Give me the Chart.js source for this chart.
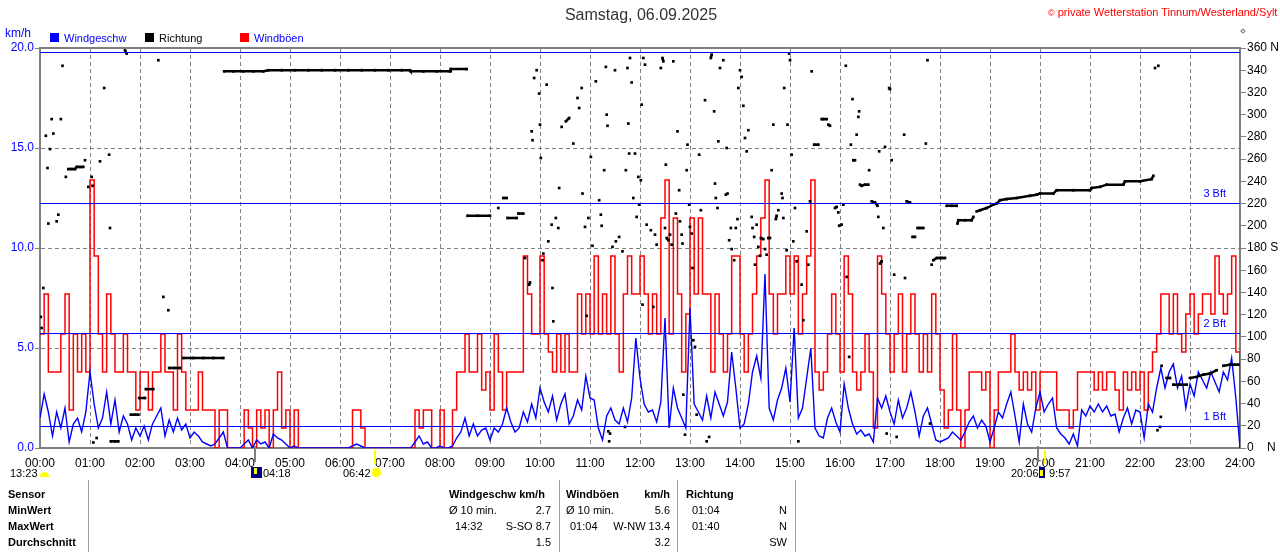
<!DOCTYPE html>
<html>
<head>
<meta charset="utf-8">
<script src="https://cdn.jsdelivr.net/npm/chart.js@4.4.1/dist/chart.umd.min.js"></script>
<style>
body { margin: 0; background: #fff; }
#wrap { position: relative; width: 1280px; height: 552px; overflow: hidden; font-family: "Liberation Sans", Arial, sans-serif; font-size: 11px; color: #000; }
#wrap div { position: absolute; white-space: nowrap; line-height: 12px; }
#chart { position: absolute; left: 0; top: 0; }
.b { font-weight: bold; }
.blue { color: #0000ff; }
.sep { width: 1px; background: #a0a0a0; top: 480px; height: 72px; }
</style>
</head>
<body>
<div id="wrap">
  <canvas id="chart" width="1280" height="552"></canvas>

  <div style="left:0;width:1282px;top:6px;text-align:center;font-size:16px;line-height:18px;color:#333">Samstag, 06.09.2025</div>
  <div style="left:1048px;top:6px;color:#ff0000"><span style="font-size:9px">©</span> private Wetterstation Tinnum/Westerland/Sylt</div>
  <div style="left:1241px;top:29px;width:2px;height:2px;border:1px solid #777;transform:rotate(45deg)"></div>

  <div class="blue" style="left:5px;top:27px;font-size:12px">km/h</div>
  <div style="left:50px;top:33px;width:9px;height:9px;background:#0000ff"></div>
  <div class="blue" style="left:64px;top:32px">Windgeschw</div>
  <div style="left:145px;top:33px;width:9px;height:9px;background:#000"></div>
  <div style="left:159px;top:32px">Richtung</div>
  <div style="left:240px;top:33px;width:9px;height:9px;background:#ff0000"></div>
  <div class="blue" style="left:254px;top:32px">Windböen</div>

  <div style="left:10px;top:467px">13:23</div>
  <div style="left:40px;top:472px;width:9px;height:5px;background:#ffff00;border-radius:5px 5px 0 0"></div>
  <div style="left:251px;top:467px;width:11px;height:11px;background:#000080"></div>
  <div style="left:254px;top:468px;width:3px;height:6px;background:#ffff00"></div>
  <div style="left:263px;top:467px">04:18</div>
  <div style="left:343px;top:467px">06:42</div>
  <div style="left:372px;top:468px;width:9px;height:9px;border-radius:50%;background:#ffff00;box-shadow:0 0 2px #ffff80"></div>
  <div style="left:1011px;top:467px">20:06</div>
  <div style="left:1039px;top:467px;width:6px;height:11px;background:#000080"></div>
  <div style="left:1040px;top:470px;width:3px;height:6px;background:#ffff00"></div>
  <div style="left:1049px;top:467px">9:57</div>

  <div class="sep" style="left:88px"></div>
  <div class="sep" style="left:559px"></div>
  <div class="sep" style="left:677px"></div>
  <div class="sep" style="left:795px"></div>

  <div class="b" style="left:8px;top:488px">Sensor</div>
  <div class="b" style="left:8px;top:504px">MinWert</div>
  <div class="b" style="left:8px;top:520px">MaxWert</div>
  <div class="b" style="left:8px;top:536px">Durchschnitt</div>

  <div class="b" style="left:449px;top:488px">Windgeschw km/h</div>
  <div style="left:449px;top:504px">Ø 10 min.</div>
  <div style="right:729px;top:504px">2.7</div>
  <div style="left:455px;top:520px">14:32</div>
  <div style="right:729px;top:520px">S-SO 8.7</div>
  <div style="right:729px;top:536px">1.5</div>

  <div class="b" style="left:566px;top:488px">Windböen</div>
  <div class="b" style="right:610px;top:488px">km/h</div>
  <div style="left:566px;top:504px">Ø 10 min.</div>
  <div style="right:610px;top:504px">5.6</div>
  <div style="left:570px;top:520px">01:04</div>
  <div style="right:610px;top:520px">W-NW 13.4</div>
  <div style="right:610px;top:536px">3.2</div>

  <div class="b" style="left:686px;top:488px">Richtung</div>
  <div style="left:692px;top:504px">01:04</div>
  <div style="right:493px;top:504px">N</div>
  <div style="left:692px;top:520px">01:40</div>
  <div style="right:493px;top:520px">N</div>
  <div style="right:493px;top:536px">SW</div>
</div>

<script>
// 5-minute samples from 00:00 to 24:00 (289 values), km/h
const stepMin = 5

const gustKmh = [
  5.7, 7.7, 3.8, 3.8, 3.8, 5.7, 7.7, 1.9, 5.7, 3.8, 5.7, 3.8,
  13.4, 9.6, 5.7, 3.8, 7.7, 5.7, 3.8, 3.8, 5.7, 3.8, 3.8, 1.9,
  3.8, 3.8, 1.9, 3.8, 3.8, 5.7, 3.8, 3.8, 1.9, 5.7, 3.8, 1.9,
  1.9, 1.9, 3.8, 1.9, 1.9, 1.9, 0, 1.9, 1.9, 0, 0, 0,
  0, 1.9, 1.0, 0, 1.9, 1.0, 1.9, 0, 1.9, 3.8, 1.0, 1.9,
  0, 1.9, 0, 0, 0, 0, 0, 0, 0, 0, 0, 0,
  0, 0, 0, 1.9, 1.9, 1.0, 0, 0, 0, 0, 0, 0,
  0, 0, 0, 0, 0, 0, 1.9, 1.0, 1.9, 1.9, 0, 0,
  1.9, 0, 0, 1.9, 3.8, 3.8, 5.7, 3.8, 3.8, 5.7, 2.9, 3.8,
  1.9, 5.7, 3.8, 1.9, 3.8, 3.8, 3.8, 3.8, 9.6, 7.7, 5.7, 5.7,
  9.6, 5.7, 4.8, 3.8, 5.7, 3.8, 5.7, 3.8, 3.8, 7.7, 5.7, 7.7,
  5.7, 9.6, 5.7, 7.7, 5.7, 9.6, 5.7, 3.8, 7.7, 9.6, 7.7, 7.7,
  9.6, 7.7, 5.7, 7.7, 5.7, 11.5, 13.4, 5.7, 11.5, 7.7, 3.8, 6.7,
  11.5, 7.7, 11.5, 7.7, 7.7, 3.8, 7.7, 5.7, 3.8, 5.7, 9.6, 9.6,
  5.7, 3.8, 5.7, 7.7, 9.6, 11.5, 13.4, 7.7, 5.7, 7.7, 7.7, 9.6,
  7.7, 9.6, 5.7, 7.7, 9.6, 13.4, 3.8, 2.9, 3.8, 5.7, 7.7, 5.7,
  3.8, 9.6, 7.7, 3.8, 2.9, 3.8, 5.7, 3.8, 1.0, 9.6, 7.7, 5.7,
  3.8, 5.7, 7.7, 3.8, 5.7, 7.7, 5.7, 3.8, 5.7, 3.8, 7.7, 5.7,
  2.9, 1.0, 1.9, 5.7, 1.9, 0, 1.9, 3.8, 3.8, 3.8, 2.9, 3.8,
  0, 1.9, 3.8, 3.8, 3.8, 5.7, 3.8, 2.9, 3.8, 2.9, 3.8, 1.9,
  3.8, 3.8, 3.8, 3.8, 1.9, 1.9, 1.9, 1.0, 1.9, 3.8, 3.8, 3.8,
  3.8, 2.9, 3.8, 2.9, 3.8, 3.8, 2.9, 1.9, 3.8, 2.9, 3.8, 2.9,
  3.8, 1.9, 3.8, 4.8, 5.7, 7.7, 7.7, 5.7, 7.7, 5.7, 4.8, 6.7,
  7.7, 5.7, 6.7, 7.7, 7.7, 6.7, 9.6, 7.7, 6.7, 7.7, 9.6, 4.8,
  0
]

const speedKmh = [
  1.5, 2.7, 1.8, 0.6, 1.8, 1.0, 2.0, 0.3, 1.2, 1.5, 0.8, 1.8,
  3.8, 2.2, 1.0, 1.5, 2.8, 1.2, 2.4, 0.8, 1.6, 1.2, 0.4, 1.0,
  0.6, 1.1, 0.4, 1.2, 1.6, 2.0, 0.6, 1.4, 0.8, 1.5, 0.9, 1.2,
  0.5, 0.8, 0.6, 0.3, 0.2, 0.1, 0.2, 0.5, 0.8, 0, 0, 0,
  0, 0.2, 0.4, 0, 0.4, 0.2, 0.3, 0, 0.7, 0.5, 0.4, 0.2,
  0, 0.1, 0, 0, 0, 0, 0, 0, 0, 0, 0, 0,
  0, 0, 0, 0.1, 0.2, 0.1, 0, 0, 0, 0, 0, 0,
  0, 0, 0, 0, 0, 0, 0.3, 0.6, 0.2, 0.3, 0, 0,
  0.1, 0, 0, 0.1, 0.5, 0.8, 1.5, 0.6, 1.2, 0.6, 0.9, 1.0,
  0.4, 1.0, 0.8, 1.2, 2.0, 1.3, 0.8, 1.0, 1.8, 1.3, 2.2, 1.5,
  3.0, 2.3, 1.8, 2.6, 1.4, 2.2, 2.7, 1.2, 1.6, 2.4, 1.9, 3.6,
  2.5, 2.4, 1.0, 0.4, 1.6, 2.0, 1.4, 1.2, 2.0, 1.3, 2.5, 5.5,
  3.5, 2.2, 1.8, 1.9, 1.3, 2.3, 6.5, 1.0, 3.0, 2.0, 1.5, 1.0,
  7.0, 2.2, 1.8, 1.4, 2.6, 1.5, 2.8, 2.2, 1.6, 2.3, 4.8, 3.0,
  1.0, 1.2, 2.2, 3.8, 4.6, 3.5, 8.7, 2.0, 1.4, 2.4, 3.0, 4.0,
  2.3, 6.0, 1.5, 2.0, 3.5, 5.0, 1.0, 0.6, 0.5, 1.5, 2.0, 1.3,
  0.8, 3.2, 2.0, 1.2, 0.7, 0.9, 0.6, 0.7, 0.3, 2.5, 2.0, 2.6,
  1.8, 1.2, 2.4, 1.5, 2.0, 2.8, 1.8, 0.6, 1.6, 2.0, 1.2, 0.4,
  0.3, 0.4, 0.5, 0.8, 0.6, 0.4, 0.8, 1.3, 1.6, 1.0, 1.4, 1.1,
  0.3, 1.0, 1.8, 1.5, 2.2, 2.8, 1.6, 0.3, 2.2, 1.2, 0.8, 2.0,
  2.8, 1.8, 2.2, 2.5, 1.0, 0.7, 0.5, 0.2, 0.7, 0.1, 1.9, 1.6,
  2.1, 1.8, 2.2, 1.8, 2.1, 1.6, 1.7, 0.8, 1.5, 2.0, 1.2, 1.9,
  1.8, 0.5, 2.2, 1.8, 3.0, 4.0, 3.0, 3.8, 4.2, 3.0, 3.6, 2.0,
  3.2, 2.6, 3.8, 3.4, 3.0, 3.8, 3.3, 2.8, 3.8, 3.4, 4.5, 2.5,
  0
]

// wind direction samples: minute of day and degrees
const dirMinutes = [
  1, 2, 4, 7, 9, 10, 12, 14, 16, 20, 22, 25, 27, 31, 34, 38, 42, 44, 48, 52, 54, 58, 62, 63, 64, 68, 72, 77, 83, 84, 85, 90, 94,
  102, 104, 109, 114, 118, 119, 126, 127, 136, 142, 148, 154, 155, 161, 168, 172, 184, 196, 208, 220,
  221, 232, 244, 256, 268, 274, 290, 306, 322, 338, 354, 370, 386, 402, 418, 434, 444, 445, 460, 476, 492, 493, 512,
  513, 525, 540, 550, 556, 560, 561, 572, 574, 580,
  582, 587, 588, 590, 591, 593, 596, 599, 600, 601, 603, 604, 608, 610, 614, 615, 616, 619, 622, 623, 626, 631, 635, 640,
  645, 647, 650, 651, 654, 656, 658, 661, 663, 667, 671, 673, 674, 677, 679, 680, 681, 682, 683, 684, 687, 690, 691, 695,
  699, 702, 703, 705, 706, 707, 708, 710, 712, 714, 716, 718, 719, 721, 722, 723, 724, 726, 728, 733, 736, 738, 740, 745,
  747, 748, 750, 751, 752, 754, 756, 758, 760, 763, 765, 767, 768, 770, 771, 772, 774, 776, 777, 779, 780, 782, 783, 784,
  786, 788, 791, 793, 798, 800, 803, 805, 806, 809, 810, 811, 813, 814, 816, 820, 823, 824, 825, 827, 829, 830, 833, 835,
  837, 838, 840, 842, 844, 846, 848, 850, 854, 855, 857, 858, 860, 862, 864, 865, 868, 870, 872, 874, 876, 878, 880, 883,
  884, 886, 890, 891, 892, 893, 896, 897, 899, 900, 902, 904, 906, 908, 910, 914, 916, 920, 922, 924, 926, 929, 934, 938,
  940, 944, 946, 948, 954, 956, 958, 959, 962, 964, 967, 968, 971, 973, 975, 976, 978, 980, 982, 983, 984, 986, 990, 994,
  995, 998, 1002, 1005, 1006, 1007, 1008, 1010, 1012, 1014, 1016, 1019, 1020, 1022, 1025, 1028, 1037, 1038, 1040, 1044,
  1047, 1050, 1053, 1056, 1060, 1063, 1065, 1068, 1070, 1072, 1076, 1080, 1082, 1086,
  1088, 1094, 1100, 1101, 1102, 1110, 1118, 1120, 1124, 1128, 1136, 1144, 1148, 1152, 1160, 1172, 1188, 1196, 1200,
  1216, 1220, 1240, 1260, 1262, 1272, 1280, 1300, 1302, 1320, 1334, 1336, 1338, 1341, 1342, 1344, 1345, 1346,
  1352, 1356, 1360, 1368, 1376, 1380, 1388, 1396, 1404, 1412, 1420, 1428, 1434, 1438
]
const dirDegrees = [
  118, 108, 144, 281, 252, 202, 269, 296, 283, 204, 210, 296, 344, 244, 251, 251, 251, 253, 253, 253, 259, 235, 244, 236, 5, 9, 258, 324, 264, 198, 6, 6, 6,
  358, 355, 30, 30, 30, 45, 45, 53, 53, 349, 136, 124, 72, 72, 72, 81, 81, 81, 81, 81,
  339, 339, 339, 339, 339, 340, 340, 340, 340, 340, 340, 340, 340, 340, 340, 340, 340, 339, 339, 339, 339, 341, 341,
  209, 209, 209, 216, 225, 225, 207, 207, 211, 211,
  171, 147, 149, 285, 277, 333, 340, 319, 291, 261, 169, 175, 327, 186, 201, 144, 114, 207, 198, 234, 289, 294, 297, 274,
  315, 306, 324, 229, 199, 119, 207, 262, 182, 330, 223, 210, 200, 250, 343, 300, 290, 15, 6, 13, 181, 340, 186, 190,
  177, 19, 250, 342, 292, 265, 351, 329, 225, 265, 208, 244, 219, 241, 309, 129, 351, 345, 201, 196, 127, 192, 183, 342,
  351, 348, 198, 255, 189, 187, 192, 183, 348, 211, 285, 232, 204, 192, 184, 48, 12, 250, 273, 219, 199, 193, 162, 97,
  91, 30, 264, 214, 313, 6, 10, 351, 354, 303, 238, 225, 216, 276, 342, 349, 228, 270, 229, 187, 198, 179, 169, 198,
  206, 324, 340, 334, 308, 279, 267, 286, 208, 198, 190, 165, 201, 181, 173, 189, 188, 179, 174, 189, 189, 250, 291, 206,
  209, 214, 229, 225, 207, 324, 178, 291, 355, 349, 264, 186, 216, 168, 6, 147, 115, 195, 165, 222, 339, 273, 273, 296,
  296, 296, 291, 290, 216, 217, 212, 200, 201, 219, 344, 154, 82, 273, 314, 259, 259, 282, 298, 303, 237, 236, 237, 237,
  250, 222, 221, 218, 208, 267, 166, 168, 198, 271, 13, 324, 323, 259, 156, 10, 282, 153, 222, 221,
  190, 190, 198, 198, 198, 274, 349, 22, 165, 169, 171, 171, 171, 171,
  218, 218, 218, 202, 205, 205, 205, 208, 213, 214, 216, 219, 220, 223, 224, 225, 227, 228, 229,
  229, 232, 232, 232, 234, 235, 237, 237, 240, 240, 242, 245, 342, 16, 344, 19, 28, 74,
  63, 63, 57, 57, 57, 63, 64, 66, 67, 70, 74, 75, 75, 75
]

const hourLabels = ['00:00', '01:00', '02:00', '03:00', '04:00', '05:00', '06:00', '07:00', '08:00', '09:00', '10:00', '11:00', '12:00',
  '13:00', '14:00', '15:00', '16:00', '17:00', '18:00', '19:00', '20:00', '21:00', '22:00', '23:00', '24:00']
const dirTickSuffix = { 0: '    N', 180: ' S', 360: ' N' }

// Beaufort thresholds in km/h
const bftKmh = [1.08, 5.76, 12.24, 19.8]
const bftLabels = ['1 Bft', '2 Bft', '3 Bft', '']

// moon / sun events on the time axis (minutes)
const markMinutes = [258, 1198]
const sunMinutes = [402, 1206]

const speedPts = speedKmh.map((v, i) => ({ x: i * stepMin, y: v }))
const gustPts = gustKmh.map((v, i) => ({ x: i * stepMin, y: v }))
const dirPts = dirMinutes.map((m, i) => ({ x: m, y: dirDegrees[i] }))

Chart.defaults.font.family = '"Liberation Sans", Arial, sans-serif'
Chart.defaults.font.size = 11

const framePlugin = {
    id: 'frame',
    beforeDatasetsDraw(chart) {
        const c = chart.ctx
        const a = chart.chartArea
        const y = chart.scales.y
        c.save()
        c.fillStyle = '#0000ff'
        c.font = '11px "Liberation Sans", Arial, sans-serif'
        c.textAlign = 'right'
        c.textBaseline = 'middle'
        for(i = 0; i < bftKmh.length; i++){
            if(bftLabels[i]){
                c.fillText(bftLabels[i], a.right - 14, y.getPixelForValue(bftKmh[i]) - 9)
            }
        }
        c.restore()
    },
    afterDatasetsDraw(chart) {
        const c = chart.ctx
        const a = chart.chartArea
        const y = chart.scales.y
        c.save()
        c.strokeStyle = '#0000ff'
        c.lineWidth = 1.2
        for(i = 0; i < bftKmh.length; i++){
            const py = Math.round(y.getPixelForValue(bftKmh[i])) + 0.5
            c.beginPath()
            c.moveTo(a.left, py)
            c.lineTo(a.right, py)
            c.stroke()
        }
        // top border
        c.strokeStyle = '#808080'
        c.lineWidth = 2
        c.beginPath()
        c.moveTo(a.left - 1, a.top)
        c.lineTo(a.right + 1, a.top)
        c.stroke()
        c.restore()
    },
    afterDraw(chart) {
        const c = chart.ctx
        const a = chart.chartArea
        const x = chart.scales.x
        c.save()
        c.lineWidth = 2
        c.strokeStyle = '#808080'
        markMinutes.forEach(m => {
            const px = Math.round(x.getPixelForValue(m))
            c.beginPath(); c.moveTo(px, a.bottom - 2); c.lineTo(px, a.bottom + 14); c.stroke()
        })
        c.strokeStyle = '#ffff00'
        sunMinutes.forEach(m => {
            const px = Math.round(x.getPixelForValue(m))
            c.beginPath(); c.moveTo(px, a.bottom + 2); c.lineTo(px, a.bottom + 16); c.stroke()
        })
        c.restore()
    }
}

const myChart = document.getElementById('chart').getContext('2d')

const windChart = new Chart(myChart, {
    type: 'line',
    data: {
        datasets: [{
            label: 'Richtung',
            data: dirPts,
            yAxisID: 'yDir',
            borderColor: '#000',
            borderWidth: 2.5,
            pointStyle: 'rect',
            pointRadius: 1.9,
            pointBorderWidth: 0,
            pointBackgroundColor: '#000',
            segment: {
                borderColor: ctx => {
                    const dt = dirMinutes[ctx.p1DataIndex] - dirMinutes[ctx.p0DataIndex]
                    const dd = Math.abs(dirDegrees[ctx.p1DataIndex] - dirDegrees[ctx.p0DataIndex])
                    return (dt <= 40 && dd <= 3.5) ? '#000' : 'rgba(0,0,0,0)'
                }
            },
            order: 0
        }, {
            label: 'Windgeschw',
            data: speedPts,
            yAxisID: 'y',
            borderColor: '#0000ff',
            borderWidth: 1.4,
            pointRadius: 0,
            order: 1
        }, {
            label: 'Windböen',
            data: gustPts,
            yAxisID: 'y',
            borderColor: '#ff0000',
            borderWidth: 1.5,
            pointRadius: 0,
            stepped: true,
            order: 2
        }]
    },
    options: {
        responsive: false,
        animation: false,
        devicePixelRatio: 1,
        events: [],
        layout: { padding: { top: 48 } },
        plugins: {
            legend: { display: false },
            tooltip: { enabled: false }
        },
        scales: {
            x: {
                type: 'linear',
                min: 0,
                max: 1440,
                ticks: {
                    stepSize: 60,
                    autoSkip: false,
                    maxRotation: 0,
                    padding: 8,
                    color: '#000',
                    font: { size: 12 },
                    callback: v => hourLabels[v / 60]
                },
                grid: { color: '#808080', lineWidth: 1, tickLength: 0 },
                border: { color: '#808080', width: 2, dash: [4, 3] },
                afterFit: s => { s.height = 104 }
            },
            y: {
                position: 'left',
                min: 0,
                max: 20,
                ticks: {
                    stepSize: 5,
                    color: '#0000ff',
                    padding: 1,
                    font: { size: 12 },
                    callback: v => v.toFixed(1)
                },
                grid: { color: '#808080', lineWidth: 1, tickLength: 5, tickColor: '#808080' },
                border: { color: '#808080', width: 2, dash: [4, 3] },
                afterFit: s => { s.width = 40 }
            },
            yDir: {
                position: 'right',
                min: 0,
                max: 360,
                ticks: {
                    stepSize: 20,
                    color: '#000',
                    padding: 1,
                    font: { size: 12 },
                    callback: v => v + (dirTickSuffix[v] || '')
                },
                grid: { drawOnChartArea: false, tickLength: 6, tickColor: '#808080' },
                border: { color: '#808080', width: 2 },
                afterFit: s => { s.width = 40 }
            }
        }
    },
    plugins: [framePlugin]
})
</script>
</body>
</html>
